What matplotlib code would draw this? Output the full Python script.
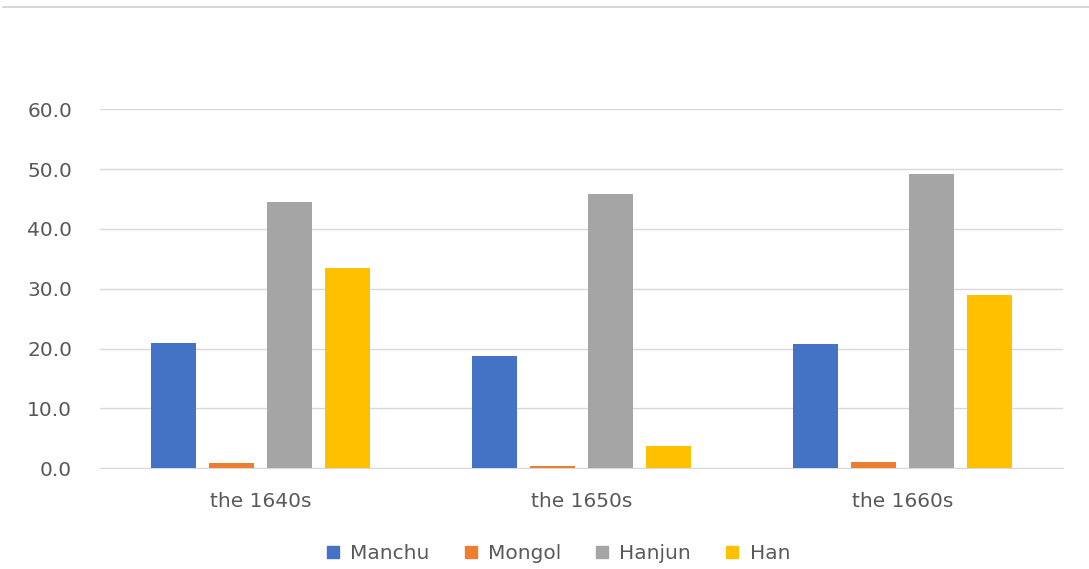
import numpy as np
import matplotlib
matplotlib.use("Agg")
import matplotlib.pyplot as plt
from matplotlib.lines import Line2D

plt.rcParams['font.family'] = ['DejaVu Sans']

decades = ["the 1640s", "the 1650s", "the 1660s"]
series = ["Manchu", "Mongol", "Hanjun", "Han"]
manchu = [20.9, 18.7, 20.7]
mongol = [0.9, 0.4, 1.0]
hanjun = [44.5, 45.9, 49.2]
han = [33.4, 3.8, 29.0]
colors = ["#4472C4", "#ED7D31", "#A5A5A5", "#FFC000"]

fig = plt.figure(figsize=(10.89, 5.69), dpi=100)
ax = fig.add_axes([0.0918, 0.177, 0.884, 0.631])

x = np.arange(len(decades))
width = 0.14
step = 0.181
for i, (vals, c) in enumerate(zip([manchu, mongol, hanjun, han], colors)):
    ax.bar(x + (i - 1.5) * step, vals, width, color=c, zorder=3, label=series[i])

ax.set_xlim(-0.5, 2.5)
ax.set_ylim(0, 60)
ax.set_yticks(np.arange(0, 61, 10))
ax.set_yticklabels([f"{v:.1f}" for v in np.arange(0, 61, 10)])
ax.set_xticks(x)
ax.set_xticklabels(decades)
ax.grid(axis='y', color='#D9D9D9', linewidth=1, zorder=0)
for s in ['top', 'right', 'left']:
    ax.spines[s].set_visible(False)
ax.spines['bottom'].set_color('#D9D9D9')
ax.tick_params(axis='both', length=0, colors='#595959', labelsize=14.5)
ax.tick_params(axis='y', pad=20)
ax.tick_params(axis='x', pad=17)

handles = [Line2D([], [], marker='s', linestyle='', markersize=9,
                  markerfacecolor=c, markeredgecolor=c) for c in colors]
leg = fig.legend(handles, series, loc='center', bbox_to_anchor=(0.511, 0.028),
                 ncol=4, frameon=False, fontsize=14.5, handletextpad=0.35,
                 columnspacing=1.55, handlelength=1.0)
for t in leg.get_texts():
    t.set_color('#595959')

# thin border line at the top
fig.add_artist(Line2D([0.003, 1.0], [0.988, 0.988], transform=fig.transFigure,
                      color='#D0D0D0', linewidth=1.2))

fig.savefig("out.png", dpi=100, facecolor='white')
